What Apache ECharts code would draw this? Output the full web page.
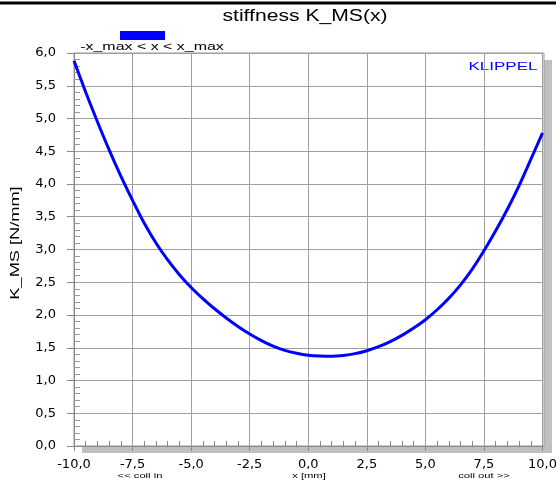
<!DOCTYPE html>
<html>
<head>
<meta charset="utf-8">
<script src="https://cdn.jsdelivr.net/npm/echarts@6/dist/echarts.min.js"></script>
<style>
html,body{margin:0;padding:0;background:#fff;}
#c{width:560px;height:484px;}
</style>
</head>
<body>
<div id="c"></div>
<script>
// Displacement x [mm]
const xs = [-10,-9.5,-9,-8.5,-8,-7.5,-7,-6.5,-6,-5.5,-5,-4.5,-4,-3.5,-3,-2.5,-2,-1.5,-1,-0.5,
            0,0.5,1,1.5,2,2.5,3,3.5,4,4.5,5,5.5,6,6.5,7,7.5,8,8.5,9,9.5,10];
// Stiffness K_MS(x) [N/mm]
const kms = [5.88,5.40,4.95,4.52,4.12,3.75,3.40,3.10,2.84,2.615,2.42,2.25,2.095,1.955,1.825,1.71,1.61,1.525,1.46,1.415,
             1.385,1.373,1.37,1.382,1.41,1.455,1.517,1.595,1.689,1.80,1.928,2.08,2.255,2.46,2.70,2.98,3.285,3.615,3.975,4.375,4.78];
const seriesName = '-x_max < x < x_max';
const titleText = 'stiffness K_MS(x)';
const xTitle = 'x [mm]';
const yTitle = 'K_MS [N/mm]';
const xLeftNote = '<< coil in';
const xRightNote = 'coil out >>';
const brand = 'KLIPPEL';

const fmt = v => v.toFixed(1).replace('.', ',');
const data = xs.map((x, i) => [x, kms[i]]);

const chart = echarts.init(document.getElementById('c'), null, {renderer: 'canvas'});
const gridColor = '#a0a0a0';
const tickFont = {fontFamily: 'DejaVu Sans', fontSize: 13, color: '#000'};
const G = {left: 74, right: 16, top: 53, bottom: 38};
const W = 560, H = 484;
const pw = W - G.left - G.right, ph = H - G.top - G.bottom;

chart.setOption({
  animation: false,
  backgroundColor: '#fff',
  grid: Object.assign({show: false}, G),
  legend: {
    left: 120, top: 31, padding: 0, itemWidth: 45, itemHeight: 9, icon: 'rect',
    formatter: () => '', data: [seriesName], selectedMode: false
  },
  xAxis: [{
    type: 'value', min: -10, max: 10, interval: 2.5,
    axisLine: {onZero: false, lineStyle: {color: '#888', width: 1}},
    axisTick: {show: true, inside: false, length: 5, lineStyle: {color: '#888'}},
    axisLabel: Object.assign({margin: 12, formatter: fmt}, tickFont),
    splitLine: {show: true, lineStyle: {color: gridColor, width: 1}}
  }, {
    type: 'value', min: -10, max: 10, interval: 2.5, position: 'bottom',
    axisLine: {show: false, onZero: false}, axisLabel: {show: false}, splitLine: {show: false},
    axisTick: {show: false, inside: true},
    minorTick: {show: true, splitNumber: 5, length: 5, lineStyle: {color: '#888'}}
  }],
  yAxis: [{
    type: 'value', min: 0, max: 6, interval: 0.5,
    axisLine: {show: true, onZero: false, lineStyle: {color: '#888', width: 1}},
    axisTick: {show: true, inside: false, length: 7, lineStyle: {color: '#888'}},
    axisLabel: Object.assign({margin: 18, formatter: fmt}, tickFont),
    splitLine: {show: true, lineStyle: {color: gridColor, width: 1}}
  }, {
    type: 'value', min: 0, max: 6, interval: 0.5, position: 'left',
    axisLine: {show: false, onZero: false}, axisLabel: {show: false}, splitLine: {show: false},
    axisTick: {show: false, inside: true},
    minorTick: {show: true, splitNumber: 5, length: 6, lineStyle: {color: '#999'}}
  }],
  series: [{
    name: seriesName, type: 'line', data: data, xAxisIndex: 0, yAxisIndex: 0,
    smooth: 0.25, showSymbol: false, symbol: 'none',
    lineStyle: {color: '#0000ff', width: 3}, itemStyle: {color: '#0000ff'}
  }],
  graphic: [
    {type: 'rect', z: -10, shape: {x: G.left + 8, y: G.top + 7, width: pw, height: ph},
     style: {fill: '#c0c0c0'}},
    {type: 'rect', z: -9, shape: {x: G.left, y: G.top, width: pw, height: ph},
     style: {fill: '#fff', stroke: '#999', lineWidth: 1}},
    {type: 'line', shape: {x1: 0, y1: 3, x2: 556, y2: 3}, style: {stroke: '#000', lineWidth: 3}},
    {type: 'text', x: 305, y: 17, scaleX: 1.32,
     style: {text: titleText, font: '16px "Liberation Sans"', fill: '#000', textAlign: 'center', textVerticalAlign: 'middle'}},
    {type: 'text', x: 152, y: 47, scaleX: 1.45,
     style: {text: seriesName, font: '11px "Liberation Sans"', fill: '#000', textAlign: 'center', textVerticalAlign: 'middle'}},
    {type: 'text', x: 503, y: 67, scaleX: 1.55,
     style: {text: brand, font: '11px "Liberation Sans"', fill: '#0000ff', textAlign: 'center', textVerticalAlign: 'middle'}},
    {type: 'text', x: 15, y: 243, rotation: Math.PI / 2, scaleX: 1.4,
     style: {text: yTitle, font: '13px "Liberation Sans"', fill: '#000', textAlign: 'center', textVerticalAlign: 'middle'}},
    {type: 'text', x: 140, y: 476, scaleX: 1.4,
     style: {text: xLeftNote, font: '8px "Liberation Sans"', fill: '#000', textAlign: 'center', textVerticalAlign: 'middle'}},
    {type: 'text', x: 309, y: 476, scaleX: 1.4,
     style: {text: xTitle, font: '8px "Liberation Sans"', fill: '#000', textAlign: 'center', textVerticalAlign: 'middle'}},
    {type: 'text', x: 484, y: 476, scaleX: 1.4,
     style: {text: xRightNote, font: '8px "Liberation Sans"', fill: '#000', textAlign: 'center', textVerticalAlign: 'middle'}}
  ]
});
</script>
</body>
</html>
